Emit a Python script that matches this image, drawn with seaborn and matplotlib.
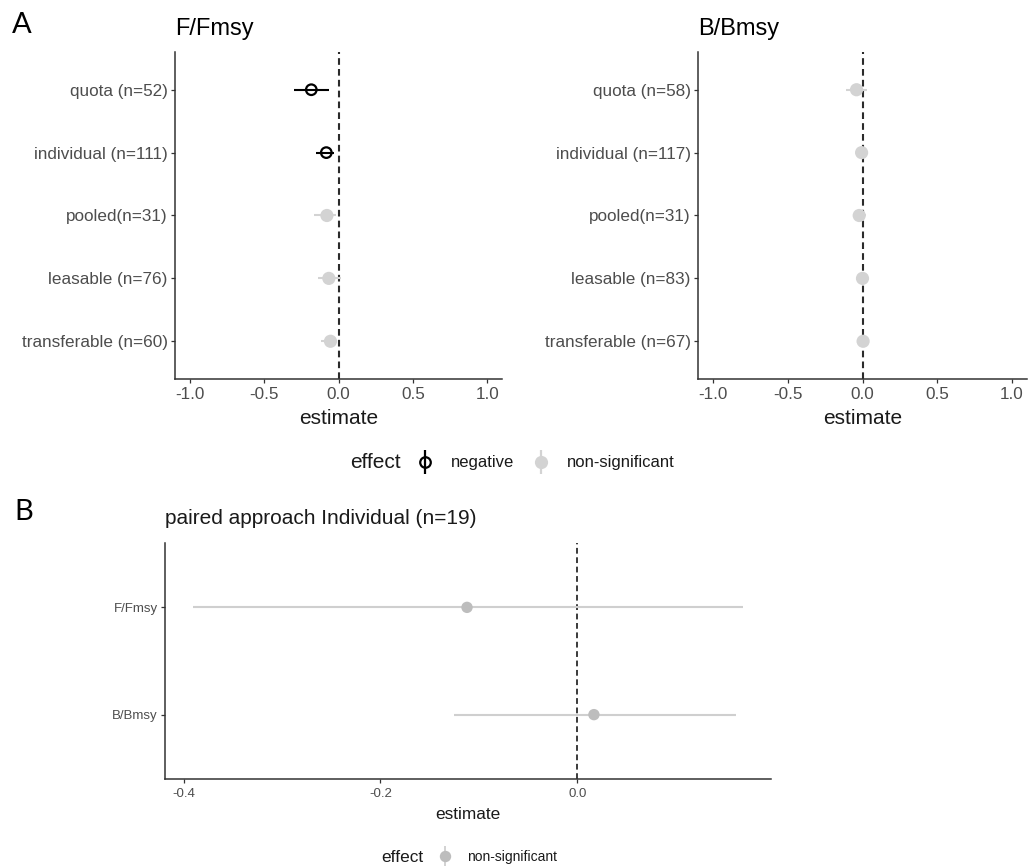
import numpy as np
import pandas as pd
import matplotlib
matplotlib.use("Agg")
import matplotlib.pyplot as plt
from matplotlib.lines import Line2D
from matplotlib.legend_handler import HandlerTuple
import seaborn as sns

# ---------------- data ----------------
labels_F = ["quota (n=52)", "individual (n=111)", "pooled(n=31)", "leasable (n=76)", "transferable (n=60)"]
est_F = [-0.183, -0.082, -0.078, -0.065, -0.054]
lo_F = [-0.300, -0.149, -0.165, -0.140, -0.120]
hi_F = [-0.067, -0.031, -0.020, 0.018, -0.008]
eff_F = ["negative", "negative", "non-significant", "non-significant", "non-significant"]

labels_B = ["quota (n=58)", "individual (n=117)", "pooled(n=31)", "leasable (n=83)", "transferable (n=67)"]
est_B = [-0.040, -0.006, -0.022, 0.000, 0.004]
lo_B = [-0.110, -0.025, -0.060, -0.022, -0.018]
hi_B = [0.033, 0.014, 0.025, 0.022, 0.026]
eff_B = ["non-significant"] * 5

labels_P = ["F/Fmsy", "B/Bmsy"]
est_P = [-0.112, 0.017]
lo_P = [-0.391, -0.125]
hi_P = [0.169, 0.161]
eff_P = ["non-significant", "non-significant"]

effects = ["negative", "non-significant"]

# ---------------- style ----------------
sns.set_theme(style="ticks")
plt.rcParams["font.family"] = ["Liberation Sans", "DejaVu Sans"]

W, H = 1029, 867
fig = plt.figure(figsize=(W / 100, H / 100), dpi=100)

def px_axes(x0, y0, x1, y1):
    return fig.add_axes([x0 / W, (H - y1) / H, (x1 - x0) / W, (y1 - y0) / H])

TICK_COL = "#4D4D4D"
SPINE_COL = "#333333"
NS_A = "#D3D3D3"
NS_B_PT = "#BDBDBD"
NS_B_LN = "#CFCFCF"


def style_axes(ax, tick_fs, xlabel_fs, labelpad, xpad):
    sns.despine(ax=ax)
    for s in ["left", "bottom"]:
        ax.spines[s].set_color(SPINE_COL)
        ax.spines[s].set_linewidth(1.1)
    ax.tick_params(axis="both", length=3, width=0.9, color=SPINE_COL,
                   labelcolor=TICK_COL, labelsize=tick_fs, pad=2.2)
    ax.tick_params(axis="x", pad=xpad)
    ax.set_xlabel("estimate", fontsize=xlabel_fs, color="#1A1A1A", labelpad=labelpad)
    ax.set_ylabel("")
    ax.grid(False)


def forest(ax, labels, est, lo, hi, eff, ns_pt, ns_ln, lw_ci, ms_ns, ms_neg, dash_lw):
    n = len(labels)
    df = pd.DataFrame({"label": labels, "estimate": est, "lo": lo, "hi": hi, "effect": eff})
    df["pos"] = n - 1 - np.arange(n)
    ax.axvline(0, color="#2B2B2B", lw=dash_lw, linestyle=(0, (3.2, 2.0)), zorder=1)
    for e in effects:
        sub = df[df["effect"] == e]
        if sub.empty:
            continue
        col = "black" if e == "negative" else ns_ln
        ax.hlines(sub["pos"], sub["lo"], sub["hi"], color=col, lw=lw_ci, zorder=2)
        if e == "negative":
            sns.scatterplot(data=sub, x="estimate", y="pos", ax=ax, marker="o",
                            s=ms_neg ** 2, facecolor="none", edgecolor="black",
                            linewidth=1.6, legend=False, zorder=3)
        else:
            sns.scatterplot(data=sub, x="estimate", y="pos", ax=ax, marker="o",
                            s=ms_ns ** 2, color=ns_pt, edgecolor="none",
                            legend=False, zorder=3)
    ax.set_yticks(df["pos"])
    ax.set_yticklabels(df["label"])
    ax.set_ylim(-0.6, n - 1 + 0.6)


# ---------------- Panel A ----------------
axF = px_axes(175, 52, 502, 379)
forest(axF, labels_F, est_F, lo_F, hi_F, eff_F, NS_A, NS_A, 1.5, 9.5, 7.6, 1.5)
axF.set_xlim(-1.1, 1.1)
axF.set_xticks([-1.0, -0.5, 0.0, 0.5, 1.0])
axF.set_xticklabels(["-1.0", "-0.5", "0.0", "0.5", "1.0"])
style_axes(axF, 12.3, 15, 5, 2.8)
axF.set_title("F/Fmsy", loc="left", fontsize=17, pad=12, color="black")

axB = px_axes(698, 52, 1027, 379)
forest(axB, labels_B, est_B, lo_B, hi_B, eff_B, NS_A, NS_A, 1.5, 9.5, 7.6, 1.5)
axB.set_xlim(-1.1, 1.1)
axB.set_xticks([-1.0, -0.5, 0.0, 0.5, 1.0])
axB.set_xticklabels(["-1.0", "-0.5", "0.0", "0.5", "1.0"])
style_axes(axB, 12.3, 15, 5, 2.8)
axB.set_title("B/Bmsy", loc="left", fontsize=17, pad=12, color="black")

# legend A
overlay = {tuple: HandlerTuple(ndivide=1, pad=0)}
fig.text(350 / W, 1 - 463 / H, "effect", fontsize=15, va="center", ha="left", color="#1A1A1A")
hA_neg = (Line2D([], [], marker="|", markersize=17, mew=1.6, color="black", linestyle="none"),
          Line2D([], [], marker="o", markersize=7.6, mfc="none", mec="black", mew=1.6, linestyle="none"))
hA_ns = (Line2D([], [], marker="|", markersize=17, mew=1.6, color=NS_A, linestyle="none"),
         Line2D([], [], marker="o", markersize=9.5, color=NS_A, mec=NS_A, mew=0, linestyle="none"))
legA = fig.legend([hA_neg, hA_ns], effects, handler_map=overlay,
                  loc="center left", bbox_to_anchor=(415 / W, 1 - 463 / H), ncol=2, frameon=False,
                  fontsize=12, handlelength=1.2, handletextpad=0.95, columnspacing=1.0,
                  borderpad=0, borderaxespad=0)
for t in legA.get_texts():
    t.set_color("#1A1A1A")

# ---------------- Panel B ----------------
axP = px_axes(165, 543, 771, 779)
forest(axP, labels_P, est_P, lo_P, hi_P, eff_P, NS_B_PT, NS_B_LN, 1.5, 8.2, 8.2, 1.3)
axP.set_xlim(-0.419, 0.197)
axP.set_xticks([-0.4, -0.2, 0.0])
axP.set_xticklabels(["-0.4", "-0.2", "0.0"])
style_axes(axP, 9.5, 12.4, 4.5, 3.8)
axP.set_title("paired approach Individual (n=19)", loc="left", fontsize=15, pad=14, color="#1A1A1A")

fig.text(381 / W, 1 - 857 / H, "effect", fontsize=12.4, va="center", ha="left", color="#1A1A1A")
hP_ns = (Line2D([], [], marker="|", markersize=15, mew=1.3, color=NS_B_LN, linestyle="none"),
         Line2D([], [], marker="o", markersize=8.2, color=NS_B_PT, mec=NS_B_PT, mew=0, linestyle="none"))
legP = fig.legend([hP_ns], ["non-significant"], handler_map=overlay,
                  loc="center left", bbox_to_anchor=(437 / W, 1 - 857 / H), ncol=1, frameon=False,
                  fontsize=10, handlelength=1.2, handletextpad=0.98, borderpad=0, borderaxespad=0)
for t in legP.get_texts():
    t.set_color("#1A1A1A")

# panel letters
fig.text(12 / W, 1 - 33 / H, "A", fontsize=21, family=["Lato", "DejaVu Sans"], va="baseline", color="black")
fig.text(14 / W, 1 - 520 / H, "B", fontsize=21, family=["Lato", "DejaVu Sans"], va="baseline", color="black")

fig.savefig("out.png", dpi=100)
